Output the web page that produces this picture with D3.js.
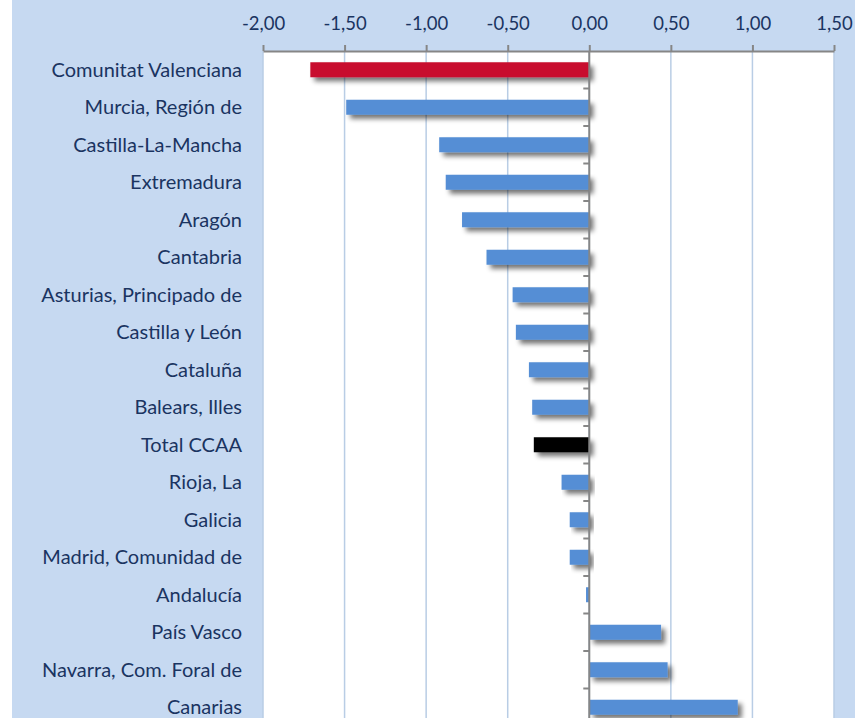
<!DOCTYPE html>
<html>
<head>
<meta charset="utf-8">
<script src="https://cdn.jsdelivr.net/npm/d3@7"></script>
<style>
  body { margin: 0; background: #fff; }
  svg text { font-family: Lato, "Open Sans", sans-serif; }
</style>
</head>
<body>
<svg id="chart" width="855" height="718"></svg>
<script>
"use strict";

// Data
var regions = ["Comunitat Valenciana", "Murcia, Región de", "Castilla-La-Mancha", "Extremadura",
               "Aragón", "Cantabria", "Asturias, Principado de", "Castilla y León", "Cataluña",
               "Balears, Illes", "Total CCAA", "Rioja, La", "Galicia", "Madrid, Comunidad de ",
               "Andalucía", "País Vasco", "Navarra, Com. Foral de", "Canarias"];
var values = [-1.71, -1.49, -0.92, -0.88, -0.78, -0.63, -0.47, -0.45, -0.37,
              -0.35, -0.34, -0.17, -0.12, -0.12, -0.02, 0.44, 0.48, 0.91];
var xTicks = [-2, -1.5, -1, -0.5, 0, 0.5, 1, 1.5];

window.onload = function() {
  var svg = d3.select("#chart");
  var left = 263, right = 834, top = 51, bottom = 726;

  var x = d3.scaleLinear().domain([-2, 1.5]).range([left, right]);
  var y = d3.scaleBand().domain(regions).range([top, bottom]).paddingInner(0.6).paddingOuter(0.3);
  var band = (bottom - top) / regions.length;

  // shadow filter
  var f = svg.append("defs").append("filter").attr("id", "shadow")
             .attr("x", "-10%").attr("y", "-30%").attr("width", "130%").attr("height", "200%");
  f.append("feGaussianBlur").attr("in", "SourceAlpha").attr("stdDeviation", 2.5);
  f.append("feOffset").attr("dx", 4).attr("dy", 4).attr("result", "b");
  f.append("feComponentTransfer").append("feFuncA").attr("type", "linear").attr("slope", 0.55);
  var m = f.append("feMerge");
  m.append("feMergeNode");
  m.append("feMergeNode").attr("in", "SourceGraphic");

  // backgrounds
  svg.append("rect").attr("x", 12).attr("y", 0).attr("width", 843).attr("height", 718).attr("fill", "#c6d9f1");
  svg.append("rect").attr("x", left).attr("y", top).attr("width", right - left).attr("height", bottom - top).attr("fill", "#fff");

  // gridlines
  svg.append("g").selectAll("line").data(xTicks).join("line")
     .attr("x1", d => x(d)).attr("x2", d => x(d))
     .attr("y1", top).attr("y2", bottom)
     .attr("stroke", "#b9cde5").attr("stroke-width", 1.5);

  // bars
  svg.append("g").selectAll("rect").data(values).join("rect")
     .attr("x", d => x(Math.min(0, d)))
     .attr("y", (d, i) => y(regions[i]))
     .attr("width", d => Math.abs(x(d) - x(0)))
     .attr("height", y.bandwidth())
     .attr("fill", (d, i) => i === 0 ? "#c8102e" : (regions[i] === "Total CCAA" ? "#000000" : "#558ed5"))
     .attr("filter", "url(#shadow)");

  // top axis
  var fmt = d => d3.format(".2f")(d).replace("\u2212", "-").replace(".", ",");
  var xAxis = svg.append("g").attr("transform", "translate(0," + top + ")")
     .call(d3.axisTop(x).tickValues(xTicks).tickFormat(fmt).tickSize(6).tickSizeOuter(0));
  xAxis.select(".domain").attr("stroke", "#868686").attr("stroke-width", 2);
  xAxis.selectAll(".tick line").attr("stroke", "#868686").attr("stroke-width", 2);
  xAxis.selectAll(".tick text").attr("fill", "#1a3461").attr("font-size", 18.5)
       .attr("font-family", "Lato, sans-serif").attr("y", -27).attr("dy", "0.35em");

  // vertical axis at zero
  svg.append("line").attr("x1", x(0)).attr("x2", x(0)).attr("y1", top).attr("y2", bottom)
     .attr("stroke", "#868686").attr("stroke-width", 2);
  svg.append("g").selectAll("line").data(d3.range(1, regions.length)).join("line")
     .attr("x1", x(0) - 6).attr("x2", x(0))
     .attr("y1", d => top + d * band).attr("y2", d => top + d * band)
     .attr("stroke", "#868686").attr("stroke-width", 2);

  // category labels
  svg.append("g").selectAll("text").data(regions).join("text")
     .attr("x", 242)
     .attr("y", d => y(d) + y.bandwidth() / 2)
     .attr("dy", "0.35em")
     .attr("text-anchor", "end")
     .attr("fill", "#1a3461")
     .attr("font-size", 20)
     .text(d => d);
};
</script>
</body>
</html>
